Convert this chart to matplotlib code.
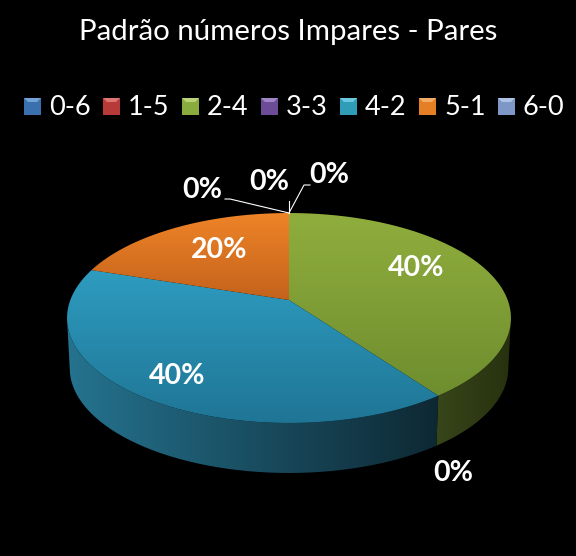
import numpy as np
import matplotlib
matplotlib.use('Agg')
import matplotlib.pyplot as plt
from matplotlib.colors import LinearSegmentedColormap
from matplotlib.path import Path
from matplotlib.patches import PathPatch

title = 'Padrão números Impares - Pares'
categories = ['0-6', '1-5', '2-4', '3-3', '4-2', '5-1', '6-0']
values = [0, 0, 2, 0, 2, 1, 0]
percent_labels = ['0%', '0%', '40%', '0%', '40%', '20%', '0%']
swatch_colors = ['#3a70ad', '#b83a38', '#8aac3f', '#6c4c96', '#2f9cb8', '#e57f26', '#7d98c6']
swatch_tops = ['#8cb8ea', '#ef8f8c', '#cfe48f', '#b9a0dc', '#86dcef', '#f8c083', '#c4d6f2']
top_colors = {'2-4': ('#90ae3d', '#6e8d2e'), '4-2': ('#2e9cc0', '#1f7595'), '5-1': ('#ee8428', '#c4621c')}
side_colors = {'2-4': ('#38461a', '#27310f'), '4-2': ('#25738f', '#0e2833')}
label_xy = [(329, 175), (269, 182), (416, 268), (453, 473), (177, 376), (219, 250), (202, 190)]

# pie geometry in pixels, the chart is a tilted disc so the centre is off the middle
cx, cy = 289, 300
fx, gy, tilt = 218.7, 101.9, 0.1714
depth = 50


def project(t, drop=0.0):
    # t is clockwise from the top, radians
    x = np.sin(t)
    y = np.cos(t)
    w = 1 + tilt * y
    shrink = 1 - 0.012 * drop / depth
    return cx + shrink * fx * x / w, cy - gy * y / w + drop


def gradient_fill(ax, xs, ys, c0, c1, horizontal=False):
    verts = np.column_stack([xs, ys])
    cmap = LinearSegmentedColormap.from_list('g', [c0, c1])
    grad = np.linspace(0, 1, 256)
    grad = grad.reshape(1, -1) if horizontal else grad.reshape(-1, 1)
    x0, x1, y0, y1 = xs.min(), xs.max(), ys.min(), ys.max()
    im = ax.imshow(grad, cmap=cmap, extent=(x0, x1, y1, y0), aspect='auto', zorder=2, interpolation='bilinear')
    patch = PathPatch(Path(verts), transform=ax.transData, fc='none', ec='none')
    ax.add_patch(patch)
    im.set_clip_path(patch)


fig = plt.figure(figsize=(5.76, 5.56), dpi=100, facecolor='black')
ax = fig.add_axes([0, 0, 1, 1])
ax.set_facecolor('black')

fracs = np.array(values) / sum(values)
edges = np.concatenate([[0], np.cumsum(fracs)]) * 2 * np.pi

# side wall first, only the part facing us
widest = np.arccos(-tilt)
for cat, a, b in zip(categories, edges[:-1], edges[1:]):
    if cat not in side_colors:
        continue
    lo = max(a, widest)
    hi = min(b, 2 * np.pi - widest)
    if hi <= lo:
        continue
    t = np.linspace(lo, hi, 150)
    x1, y1 = project(t)
    x2, y2 = project(t[::-1], depth)
    c0, c1 = side_colors[cat]
    gradient_fill(ax, np.r_[x1, x2], np.r_[y1, y2], c0, c1, horizontal=True)

# top of the disc
for cat, a, b in zip(categories, edges[:-1], edges[1:]):
    if cat not in top_colors or b <= a:
        continue
    t = np.linspace(a, b, 200)
    x, y = project(t)
    xs = np.r_[cx, x, cx]
    ys = np.r_[cy, y, cy]
    c0, c1 = top_colors[cat]
    gradient_fill(ax, xs, ys, c0, c1)

ax.plot([225, 230, 289], [199, 199, 213], color='white', lw=0.8, zorder=3)
ax.plot([288.5, 288.5], [213, 201], color='white', lw=0.8, zorder=3)
ax.plot([289, 304, 310], [213, 185, 185], color='white', lw=0.8, zorder=3)

for lab, (lx, ly) in zip(percent_labels, label_xy):
    ax.text(lx, ly, lab, color='white', fontsize=20.5, fontweight='bold', family='Lato',
            ha='center', va='center', zorder=4)

ax.text(288, 32, title, color='white', fontsize=21.2, family='Lato', ha='center', va='center')

# legend
for i, cat in enumerate(categories):
    sx = 24 + 79 * i
    cmap = LinearSegmentedColormap.from_list('s', [swatch_colors[i], swatch_colors[i]])
    ax.imshow(np.zeros((2, 2)), cmap=cmap, extent=(sx, sx + 17, 115, 98), aspect='auto', zorder=2)
    ax.fill([sx, sx + 17, sx + 13, sx + 4], [98, 98, 102, 102], color=swatch_tops[i], alpha=0.7, lw=0, zorder=3)
    ax.text(sx + 25, 107.5, cat, color='white', fontsize=19.5, family='Lato', ha='left', va='center')

ax.set_xlim(0, 576)
ax.set_ylim(556, 0)
ax.axis('off')
fig.savefig('out.png', dpi=100, facecolor='black')
